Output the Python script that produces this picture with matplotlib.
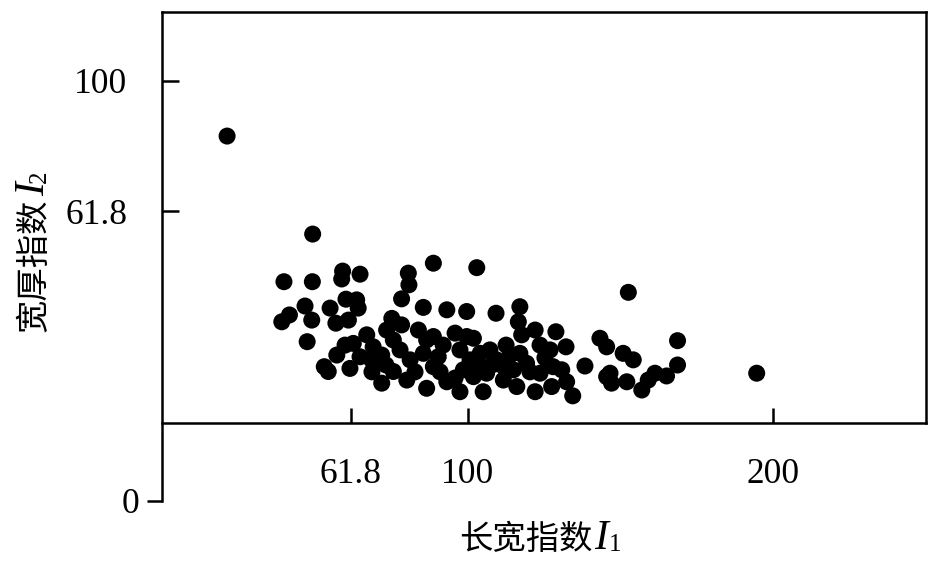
import numpy as np
import matplotlib.pyplot as plt

plt.rcParams['font.family'] = ['Liberation Serif', 'Noto Sans CJK SC']

# ---- data ----
I1 = [21.3, 49.3, 39.9, 49.2, 59.1, 58.8, 64.8, 80.6, 80.8, 78.4,
      88.8, 103.0, 41.7, 39.2, 46.8, 49.0, 55.0, 56.9, 60.2, 63.7,
      64.2, 61.0, 47.5, 53.1, 54.4, 57.2, 59.9, 62.6, 61.5, 67.0,
      69.1, 64.8, 68.6, 75.2, 73.5, 78.4, 75.7, 77.9, 71.9, 75.7,
      80.1, 81.2, 83.9, 88.8, 85.5, 86.6, 85.5, 90.4, 88.8, 93.2,
      99.7, 95.9, 99.7, 93.2, 97.5, 98.6, 97.5, 152.6, 109.3, 117.1,
      116.6, 122.1, 117.7, 128.9, 132.2, 143.3, 145.5, 138.4, 150.9, 154.2,
      146.6, 152.1, 105.1, 111.7, 116.1, 122.1, 127.5, 134.4, 132.4, 123.7,
      86.6, 101.9, 104.1, 107.3, 109.5, 113.9, 117.1, 119.3, 115.0, 106.2,
      101.9, 127.0, 128.0, 194.6, 168.7, 168.7, 145.5, 147.1, 157.0, 159.1,
      161.3, 165.1, 130.8, 103.0, 111.6, 92.0, 71.9, 123.7,
      100.8, 108.0, 112.6, 120.4, 125.3, 95.9, 91.0, 82.8, 68.7, 73.3]
I2 = [83.8, 55.2, 41.3, 41.3, 44.4, 42.1, 43.5, 43.8, 40.4, 36.3,
      46.7, 45.4, 31.6, 29.6, 34.2, 30.1, 33.6, 29.2, 36.2, 36.0,
      33.6, 30.1, 23.8, 16.5, 15.1, 19.9, 22.8, 23.3, 16.0, 25.8,
      22.3, 19.4, 18.5, 30.6, 27.2, 28.7, 24.3, 21.4, 11.7, 15.1,
      12.6, 18.5, 27.2, 25.3, 33.8, 10.2, 20.4, 19.4, 16.5, 33.1,
      32.6, 26.3, 25.3, 12.1, 9.2, 15.6, 21.4, 38.2, 32.1, 34.0,
      29.6, 27.2, 25.8, 26.7, 22.3, 24.8, 22.3, 16.7, 20.4, 18.5,
      14.6, 12.1, 9.2, 12.6, 10.7, 9.2, 10.7, 8.0, 12.1, 14.6,
      24.3, 24.8, 20.4, 21.4, 18.5, 19.9, 20.4, 17.5, 15.6, 14.6,
      13.6, 21.4, 16.5, 14.6, 24.1, 17.0, 13.6, 11.7, 9.7, 12.6,
      14.6, 13.8, 15.6, 17.9, 16.7, 22.8, 19.9, 22.8,
      18.5, 17.0, 22.8, 15.0, 19.1, 13.2, 15.0, 15.0, 15.0, 17.0]

xticks = [61.8, 100, 200]
xticklabels = ['61.8', '100', '200']
yticks = [61.8, 100]
yticklabels = ['61.8', '100']
ybottom = -22.6
xlabel_cn, xlabel_sym, xlabel_sub = '长宽指数', 'I', '1'
ylabel_cn, ylabel_sym, ylabel_sub = '宽厚指数', 'I', '2'

CJK = ['Noto Sans CJK SC', 'DejaVu Sans']
SERIF = ['Liberation Serif', 'DejaVu Serif']

W, H = 936, 568

# ---- figure ----
fig = plt.figure(figsize=(W / 100, H / 100), dpi=100)
ax = fig.add_axes([162/W, 1 - 500.7/H, (926 - 162)/W, (500.7 - 12)/H])

ax.scatter(I1, I2, s=150, c='black', edgecolors='none', zorder=3)

ax.set_xlim(0, 250)
ax.set_ylim(ybottom, 120)

lw = 1.8
for sp in ax.spines.values():
    sp.set_linewidth(lw)
ax.spines['bottom'].set_position(('data', 0))
ax.spines['right'].set_bounds(0, 120)

ax.set_xticks(xticks, labels=xticklabels)
ax.set_yticks(yticks, labels=yticklabels)
ax.set_yticks([ybottom], labels=['0'], minor=True)

tfs = 25.5
ax.tick_params(axis='x', which='major', direction='in', length=10.8, width=lw,
               pad=25, labelsize=tfs)
ax.tick_params(axis='y', which='major', direction='in', length=12, width=lw,
               pad=25, labelsize=tfs)
ax.tick_params(axis='y', which='minor', direction='out', length=10.8, width=lw,
               pad=5.8, labelsize=tfs)
ax.tick_params(axis='x', which='minor', bottom=False)

fs_cn, fs_sym, fs_sub = 24, 30, 18

# x label: chinese + italic I + small subscript, all on one baseline
xb = 1 - 549/H
t1 = fig.text(459/W, xb, xlabel_cn, ha='left', va='baseline',
              fontsize=fs_cn, family=CJK)
t2 = fig.add_artist(plt.Annotation(xlabel_sym, xy=(1, xb),
                                   xycoords=(t1, 'figure fraction'),
                                   xytext=(1.5, 0), textcoords='offset points',
                                   ha='left', va='baseline', fontsize=fs_sym,
                                   family=SERIF, style='italic'))
fig.add_artist(plt.Annotation(xlabel_sub, xy=(1, xb),
                              xycoords=(t2, 'figure fraction'),
                              xytext=(0, -1.5), textcoords='offset points',
                              ha='left', va='baseline', fontsize=fs_sub,
                              family=SERIF))

# y label, rotated: text runs upward, baseline on the right
yb = 44 / W
u1 = fig.text(yb, 1 - 332/H, ylabel_cn, ha='left', va='baseline',
              fontsize=fs_cn, family=CJK, rotation=90, rotation_mode='anchor')
u2 = fig.add_artist(plt.Annotation(ylabel_sym, xy=(yb, 1),
                                   xycoords=('figure fraction', u1),
                                   xytext=(0, 1.5), textcoords='offset points',
                                   ha='left', va='baseline', fontsize=fs_sym,
                                   family=SERIF, style='italic', rotation=90,
                                   rotation_mode='anchor'))
fig.add_artist(plt.Annotation(ylabel_sub, xy=(yb, 1),
                              xycoords=('figure fraction', u2),
                              xytext=(1.5, 0), textcoords='offset points',
                              ha='left', va='baseline', fontsize=fs_sub,
                              family=SERIF, rotation=90,
                              rotation_mode='anchor'))

fig.savefig('out.png', dpi=100)
